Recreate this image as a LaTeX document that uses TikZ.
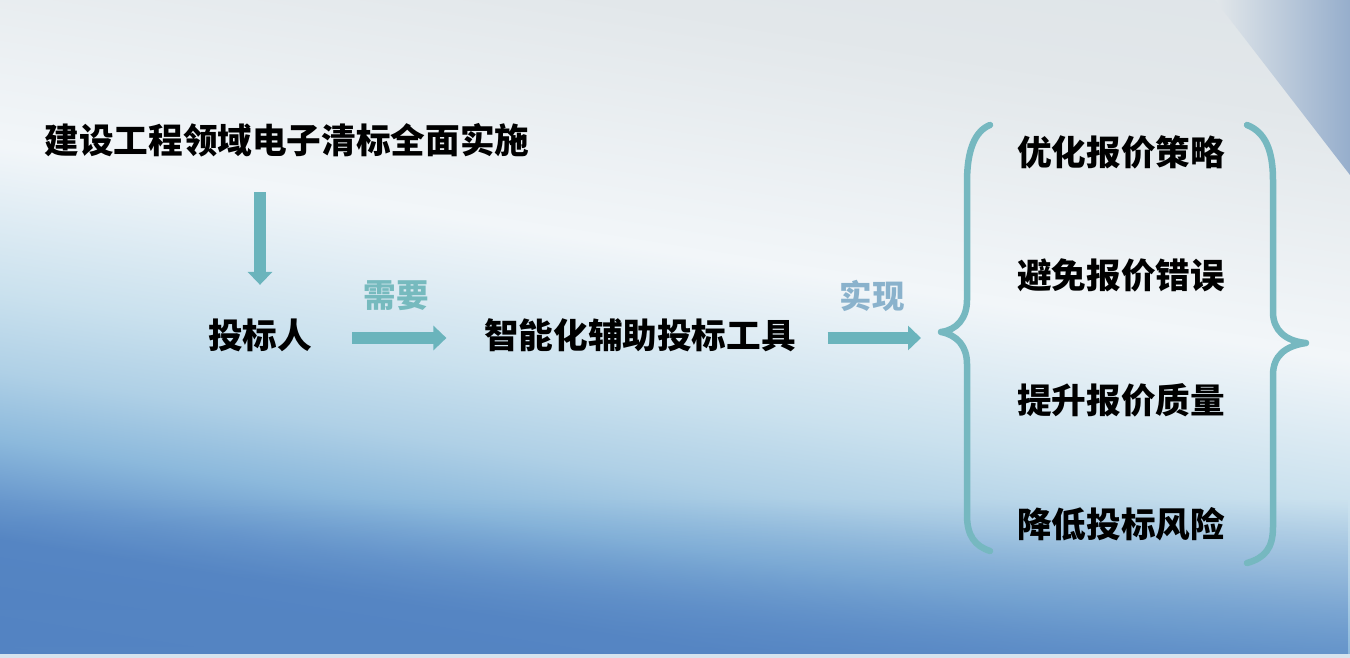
\documentclass[tikz,border=0pt]{standalone}
\usepackage{fontspec}
\usepackage{tikz}
\usetikzlibrary{arrows.meta}
\usetikzlibrary{fadings}

\newfontfamily\cjk{Noto Sans CJK SC}

\definecolor{flowteal}{RGB}{106,180,188}
\definecolor{braceteal}{RGB}{118,184,192}
\definecolor{needteal}{RGB}{118,186,190}
\definecolor{reachblue}{RGB}{138,178,204}
\definecolor{bgdeep}{RGB}{70,118,185}
\definecolor{bgnavy}{RGB}{85,133,195}
\definecolor{bgblue}{RGB}{105,152,205}
\definecolor{bgmid}{RGB}{140,185,220}
\definecolor{bgsky}{RGB}{175,208,230}
\definecolor{bglight}{RGB}{202,225,238}
\definecolor{bgwhite}{RGB}{242,246,249}
\definecolor{bgtop}{RGB}{226,231,234}
\definecolor{bgcorner}{RGB}{214,222,228}
\definecolor{bgslate}{RGB}{150,174,204}
\definecolor{bgedge}{RGB}{214,228,238}

\pgfdeclareverticalshading{backdrop}{100bp}{color(0bp)=(bgdeep); color(29bp)=(bgnavy); color(31.8bp)=(bgblue); color(35.7bp)=(bgmid); color(40.2bp)=(bgsky); color(45.4bp)=(bglight); color(55bp)=(bgwhite); color(71bp)=(bgtop); color(100bp)=(bgcorner)}

\begin{document}
\begin{tikzpicture}[x=0.02cm, y=-0.02cm,
    phrase/.style={font=\cjk\bfseries\fontsize{19.7pt}{24pt}\selectfont, inner sep=0, text height=15.8pt, text depth=3.9pt},
    cue/.style={font=\cjk\bfseries\fontsize{18.5pt}{22pt}\selectfont, inner sep=0},
    flow/.style={draw=flowteal, line width=0.24cm, -{Triangle[length=0.26cm, width=0.48cm]}},
    brace/.style={draw=braceteal, line width=0.13cm, line cap=round, line join=round}]
        \useasboundingbox (0,0) rectangle (1350,658);
        \shade[shading=backdrop, shading angle=-9] (0,0) rectangle (1350,658);
        \fill[bgnavy, path fading=north, fill opacity=0.7] (0,500) rectangle (1350,654);
        \shade[left color=bgtop, right color=bgslate] (1215,0) -- (1350,0) -- (1350,175) -- cycle;
        \fill[bgedge] (0,654) rectangle (1350,658);

        \node (title) [phrase] at (287, 143) {建设工程领域电子清标全面实施};
        \node (bidder) [phrase] at (260, 338) {投标人};
        \node (tool) [phrase] at (640, 338) {智能化辅助投标工具};

        \node (need) [cue, text=needteal] at (396, 296) {需要};
        \node (gain) [cue, text=reachblue] at (872, 296) {实现};

        \node (g0) [phrase] at (1121, 155) {优化报价策略};
        \node (g1) [phrase] at (1121, 278) {避免报价错误};
        \node (g2) [phrase] at (1121, 403) {提升报价质量};
        \node (g3) [phrase] at (1121, 527) {降低投标风险};

        \coordinate (reach) at (921, 338);

        \path
        (bidder |- title.south) edge[flow, shorten <=0.63cm, shorten >=0.71cm] (bidder.north)
        (bidder) edge[flow, shorten <=0.8cm, shorten >=0.75cm] (tool)
        (tool) edge[flow, shorten <=0.63cm] (reach)
        ;

        \draw[brace] (990,125) .. controls (975,131) and (967,150) .. (967,182)
        -- (967,300) .. controls (967,318) and (957,330) .. (941,332)
        .. controls (957,335) and (967,346) .. (967,364)
        -- (967,515) .. controls (967,536) and (975,546) .. (990,551);
        \draw[brace] (1247,125) .. controls (1265,132) and (1273,150) .. (1273,180)
        -- (1273,312) .. controls (1273,330) and (1285,341) .. (1306,343)
        .. controls (1285,346) and (1273,356) .. (1273,375)
        -- (1273,527) .. controls (1273,548) and (1265,558) .. (1247,563);
      \end{tikzpicture}
\end{document}
